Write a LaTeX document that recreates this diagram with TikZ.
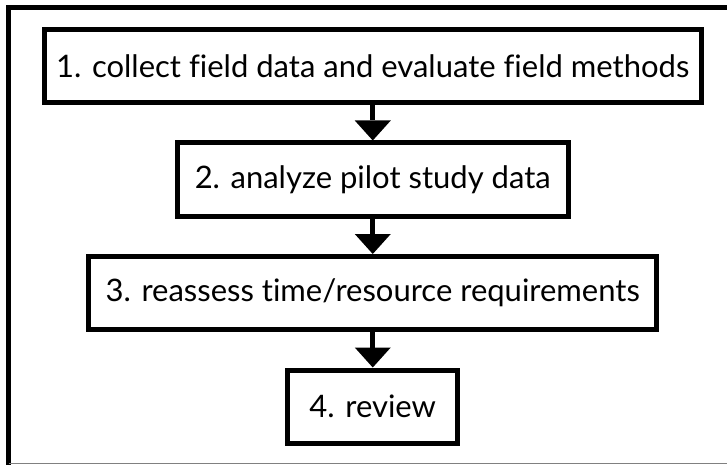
\documentclass[tikz,border=0pt]{standalone}
\usepackage{fontspec}
\setmainfont[Ligatures=NoCommon]{Lato}
\usetikzlibrary{arrows.meta,positioning}
\tikzstyle{stage} = [rectangle,draw,line width=5pt,inner sep=0pt,
  minimum height=73pt,font=\fontsize{31}{36}\selectfont]
\tikzstyle{link} = [draw,line width=5pt,
  -{Triangle[width=36pt,length=20pt,line width=0pt]}]

\begin{document}
\begin{tikzpicture}[x=1pt,y=-1pt,node distance=113.5pt]
\useasboundingbox (0,0) rectangle (727,465);

% frame, cut at the right and bottom
\draw [line width=5pt] (8.5,470) -- (8.5,8) -- (735,8);
\draw [gray,line width=1pt] (8.5,463.5) -- (727,463.5);

\node [stage,minimum width=656.5pt] (collect) at (372.75,66) {1. collect field data and evaluate field methods};
\node [stage,minimum width=391.5pt,below of=collect] (analyze) {2. analyze pilot study data};
\node [stage,minimum width=568pt,below of=analyze] (reassess) {3. reassess time/resource requirements};
\node [stage,minimum width=170pt,below of=reassess] (review) {4. review};

\path [link] (collect) -- (analyze);
\path [link] (analyze) -- (reassess);
\path [link] (reassess) -- (review);

\end{tikzpicture}
\end{document}
